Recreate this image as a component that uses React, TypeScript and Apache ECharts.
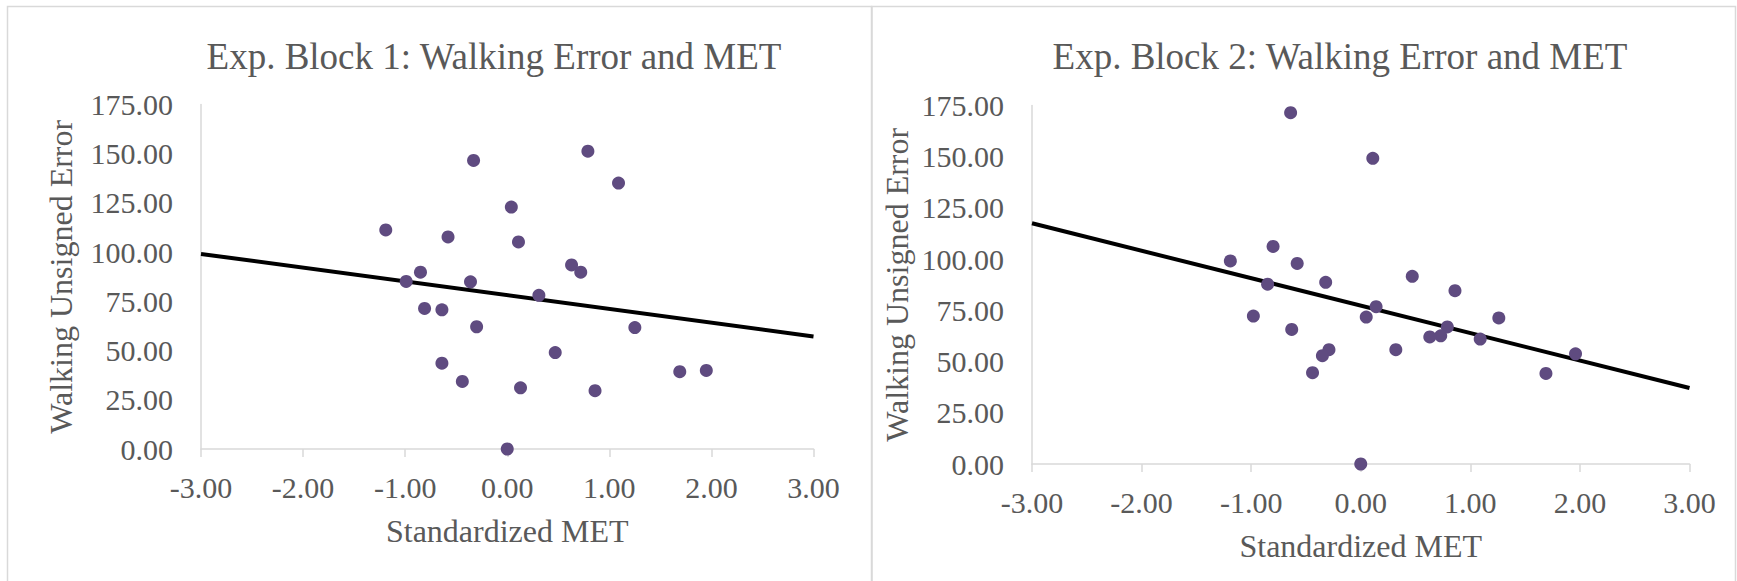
import React, { useEffect, useRef } from "react";
import * as echarts from "echarts";

const xTicks = [-3, -2, -1, 0, 1, 2, 3];
const yTicks = [0, 25, 50, 75, 100, 125, 150, 175];

const block1MET = [-0.33, 0.79, 1.09, 0.04, -1.19, -0.58, 0.11, 0.63, 0.72, -0.85, -0.99, -0.36, 0.31, -0.81, -0.64, -0.30, 1.25, 0.47, -0.64, -0.44, 0.13, 0.86, 0.0, 1.69, 1.95];
const block1Error = [146.6, 151.3, 135.1, 122.9, 111.3, 107.7, 105.2, 93.5, 89.8, 89.8, 85.1, 84.9, 78.1, 71.4, 70.7, 62.1, 61.7, 49.0, 43.6, 34.3, 31.1, 29.6, 0.0, 39.3, 39.9];

const block2MET = [-0.64, 0.11, -0.8, -1.19, -0.58, 0.47, -0.32, -0.85, 0.86, 0.14, 0.05, -0.98, -0.63, 0.79, 0.73, 0.63, 0.32, -0.29, -0.35, -0.44, 0.0, 1.09, 1.26, 1.69, 1.96];
const block2Error = [171.5, 149.2, 106.2, 99.1, 97.9, 91.6, 88.7, 87.8, 84.6, 76.8, 71.7, 72.2, 65.7, 66.9, 62.6, 62.0, 55.8, 55.8, 52.9, 44.6, 0.0, 61.0, 71.3, 44.2, 53.8];

const trendX = [-3, 3];
const trend1Y = [99.1, 57.2];
const trend2Y = [117.5, 37.1];

const titles = ["Exp. Block 1: Walking Error and MET", "Exp. Block 2: Walking Error and MET"];
const xName = "Standardized MET";
const yName = "Walking Unsigned Error";

const TEXT = "#595959";
const AXIS = "#d9d9d9";
const DOT = "#5F4B80";
const FONT = "'Liberation Serif', 'Times New Roman', serif";

export default function App() {
  const ref = useRef<HTMLDivElement>(null);
  useEffect(() => {
    document.body.style.margin = "0";
    const chart = echarts.init(ref.current!, null, { renderer: "svg" });
    const pairs = (xs: number[], ys: number[]) => xs.map((x, i) => [x, ys[i]]);

    const grids = [
      { left: 201, top: 104.5, width: 612.5, height: 344.5 },
      { left: 1032, top: 105.5, width: 657.5, height: 358.5 },
    ];
    const yGaps = [124, 119];

    const xAxis = grids.map((_, i) => ({
      type: "value",
      gridIndex: i,
      min: xTicks[0],
      max: xTicks[xTicks.length - 1],
      interval: 1,
      name: xName,
      nameLocation: "middle",
      nameGap: 66,
      nameTextStyle: { color: TEXT, fontSize: 32, fontFamily: FONT },
      axisLine: { show: true, onZero: false, lineStyle: { color: AXIS, width: 1.5 } },
      axisTick: { show: true, length: 8, lineStyle: { color: AXIS, width: 1.5 } },
      axisLabel: {
        color: TEXT,
        fontSize: 30,
        fontFamily: FONT,
        margin: 23,
        formatter: (v: number) => v.toFixed(2),
      },
      splitLine: { show: false },
    }));

    const yAxis = grids.map((_, i) => ({
      type: "value",
      gridIndex: i,
      min: yTicks[0],
      max: yTicks[yTicks.length - 1],
      interval: 25,
      name: yName,
      nameLocation: "middle",
      nameGap: yGaps[i],
      nameTextStyle: { color: TEXT, fontSize: 32, fontFamily: FONT },
      axisLine: { show: true, onZero: false, lineStyle: { color: AXIS, width: 1.5 } },
      axisTick: { show: false },
      axisLabel: {
        color: TEXT,
        fontSize: 30,
        fontFamily: FONT,
        margin: 28,
        formatter: (v: number) => v.toFixed(2),
      },
      splitLine: { show: false },
    }));

    const lineSeries = (i: number, ys: number[]) => ({
      type: "line",
      xAxisIndex: i,
      yAxisIndex: i,
      data: pairs(trendX, ys),
      symbol: "none",
      lineStyle: { color: "#000", width: 4 },
      z: 2,
      silent: true,
    });
    const scatterSeries = (i: number, xs: number[], ys: number[]) => ({
      type: "scatter",
      xAxisIndex: i,
      yAxisIndex: i,
      data: pairs(xs, ys),
      symbol: "circle",
      symbolSize: 13,
      itemStyle: { color: DOT, opacity: 1 },
      z: 3,
    });

    const titleStyle = { color: TEXT, fontSize: 37, fontWeight: "normal", fontFamily: FONT };

    chart.setOption({
      animation: false,
      backgroundColor: "#fff",
      title: [
        { text: titles[0], left: 494, top: 38, textAlign: "center", padding: 0, textStyle: titleStyle },
        { text: titles[1], left: 1340, top: 38, textAlign: "center", padding: 0, textStyle: titleStyle },
      ],
      graphic: [
        {
          type: "rect",
          shape: { x: 7.5, y: 6.5, width: 864, height: 620 },
          style: { fill: "none", stroke: AXIS, lineWidth: 1.5 },
          silent: true,
          z: -1,
        },
        {
          type: "rect",
          shape: { x: 872, y: 6.5, width: 863.5, height: 620 },
          style: { fill: "none", stroke: AXIS, lineWidth: 1.5 },
          silent: true,
          z: -1,
        },
      ],
      grid: grids,
      xAxis,
      yAxis,
      series: [
        lineSeries(0, trend1Y),
        scatterSeries(0, block1MET, block1Error),
        lineSeries(1, trend2Y),
        scatterSeries(1, block2MET, block2Error),
      ],
    });
    return () => chart.dispose();
  }, []);
  return <div ref={ref} style={{ width: 1737, height: 581 }} />;
}
